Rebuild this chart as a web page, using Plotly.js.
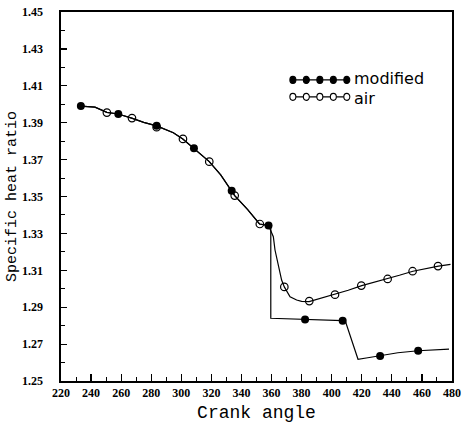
<!DOCTYPE html>
<html>
<head>
<meta charset="utf-8">
<script src="https://cdn.plot.ly/plotly-3.0.1.min.js"></script>
<style>html,body{margin:0;padding:0;background:#fff;}#chart{width:462px;height:429px;}</style>
</head>
<body>
<div id="chart"></div>
<script>
// Traced curve of the "modified" case (crank angle, specific heat ratio)
const modCurveX = [233, 242.6, 250.5, 258, 267, 275, 283.6, 294.7, 301, 308.4, 318.6, 326.2, 333.5, 335.5, 344, 352, 358, 359.5, 359.5, 370, 382.3, 395, 407.3, 409, 417.5, 424, 432.2, 444, 457.5, 468, 478];
const modCurveY = [1.3990, 1.3984, 1.3956, 1.3947, 1.3925, 1.3902, 1.3883, 1.3846, 1.3812, 1.3761, 1.3689, 1.3617, 1.3531, 1.3505, 1.3430, 1.3351, 1.3343, 1.3340, 1.2840, 1.2838, 1.2833, 1.2830, 1.2827, 1.2826, 1.2618, 1.2626, 1.2636, 1.2653, 1.2664, 1.2668, 1.2673];
// Traced curve of the "air" case
const airCurveX = [233, 242.6, 250.5, 258, 267, 275, 283.6, 294.7, 301, 308.4, 318.6, 326.2, 333.5, 335.5, 344, 352, 358, 361.2, 362.3, 364.5, 366.7, 368.5, 372.3, 376.7, 380, 385, 393, 402, 411, 420, 428, 437, 445, 454, 462, 471, 479];
const airCurveY = [1.3990, 1.3984, 1.3956, 1.3947, 1.3925, 1.3902, 1.3883, 1.3846, 1.3812, 1.3761, 1.3689, 1.3617, 1.3531, 1.3505, 1.3430, 1.3351, 1.3343, 1.3282, 1.3210, 1.3120, 1.3047, 1.3010, 1.2957, 1.2939, 1.2932, 1.2930, 1.2948, 1.2968, 1.2992, 1.3017, 1.3034, 1.3053, 1.3073, 1.3095, 1.3110, 1.3123, 1.3132];
// Marker points
const modMarkX = [233.2, 258.1, 283.6, 308.4, 333.5, 358, 382.3, 407.3, 432.2, 457.5];
const modMarkY = [1.3990, 1.3947, 1.3884, 1.3761, 1.3531, 1.3343, 1.2833, 1.2827, 1.2636, 1.2664];
const airMarkX = [250.5, 267.2, 283.6, 301.1, 318.6, 335.5, 352.2, 368.5, 385.1, 402.2, 419.7, 437.2, 453.8, 470.7];
const airMarkY = [1.3955, 1.3925, 1.3876, 1.3812, 1.3689, 1.3505, 1.3351, 1.3010, 1.2933, 1.2968, 1.3017, 1.3053, 1.3095, 1.3123];
const seriesNames = ["modified", "air"];

const lineStyle = {color: "#000", width: 1.2};
const traces = [
  {x: airCurveX, y: airCurveY, mode: "lines", line: lineStyle, hoverinfo: "skip", showlegend: false},
  {x: modCurveX, y: modCurveY, mode: "lines", line: lineStyle, hoverinfo: "skip", showlegend: false},
  {x: airMarkX, y: airMarkY, mode: "markers", name: seriesNames[1], showlegend: false,
   marker: {symbol: "circle-open", size: 7.5, color: "#000", line: {width: 1.2, color: "#000"}}},
  {x: modMarkX, y: modMarkY, mode: "markers", name: seriesNames[0], showlegend: false,
   marker: {symbol: "circle", size: 8, color: "#000"}}
];

// legend drawn as decoration in paper coordinates
const legRows = [{y: 0.816, filled: true, label: seriesNames[0], shift: 1.5}, {y: 0.770, filled: false, label: seriesNames[1], shift: -1.5}];
const lx0 = 0.593, lx1 = 0.731;
const shapes = [];
const annotations = [];
legRows.forEach(r => {
  shapes.push({type: "line", xref: "paper", yref: "paper", x0: lx0, x1: lx1, y0: r.y, y1: r.y, line: {color: "#000", width: 1.2}});
  for (let i = 0; i < 5; i++) {
    const cx = lx0 + (lx1 - lx0) * i / 4;
    shapes.push({type: "circle", xref: "paper", yref: "paper", xsizemode: "pixel", ysizemode: "pixel",
      xanchor: cx, yanchor: r.y, x0: -3, x1: 3, y0: -3.5, y1: 3.5,
      fillcolor: r.filled ? "#000" : "#fff", line: {color: "#000", width: 1.1}});
  }
  annotations.push({xref: "paper", yref: "paper", x: lx1 + 0.016, y: r.y, yshift: r.shift, xanchor: "left", yanchor: "middle",
    borderpad: 0,
    text: r.label, showarrow: false, font: {family: "DejaVu Sans", size: 16, color: "#000"}});
});

const tickFont = {family: "Liberation Serif", size: 12, color: "#000", weight: "bold"};
const layout = {
  width: 462, height: 429,
  margin: {l: 61, r: 10, t: 12, b: 48},
  paper_bgcolor: "#fff", plot_bgcolor: "#fff",
  showlegend: false,
  xaxis: {
    range: [220, 480], dtick: 20, tick0: 220, ticks: "inside", ticklen: 7, tickwidth: 1.2, tickcolor: "#000",
    minor: {dtick: 10, ticks: "inside", ticklen: 4, tickcolor: "#000", tickwidth: 1},
    showline: true, linewidth: 1.6, linecolor: "#000", mirror: true, showgrid: false, zeroline: false,
    tickfont: tickFont,
    title: {text: "Crank angle", font: {family: "Liberation Mono", size: 18, color: "#000"}, standoff: 6}
  },
  yaxis: {
    range: [1.25, 1.45], dtick: 0.02, tick0: 1.25, tickformat: ".2f", ticks: "inside", ticklen: 6, tickwidth: 1.2, tickcolor: "#000",
    minor: {dtick: 0.01, ticks: "inside", ticklen: 4, tickcolor: "#000", tickwidth: 1},
    showline: true, linewidth: 1.6, linecolor: "#000", mirror: true, showgrid: false, zeroline: false,
    tickfont: tickFont, ticklabelstandoff: 14,
    title: {text: "Specific heat ratio", font: {family: "Liberation Mono", size: 15, color: "#000"}, standoff: 2}
  },
  shapes: shapes,
  annotations: annotations
};
Plotly.newPlot("chart", traces, layout, {displayModeBar: false, staticPlot: true});
</script>
</body>
</html>
